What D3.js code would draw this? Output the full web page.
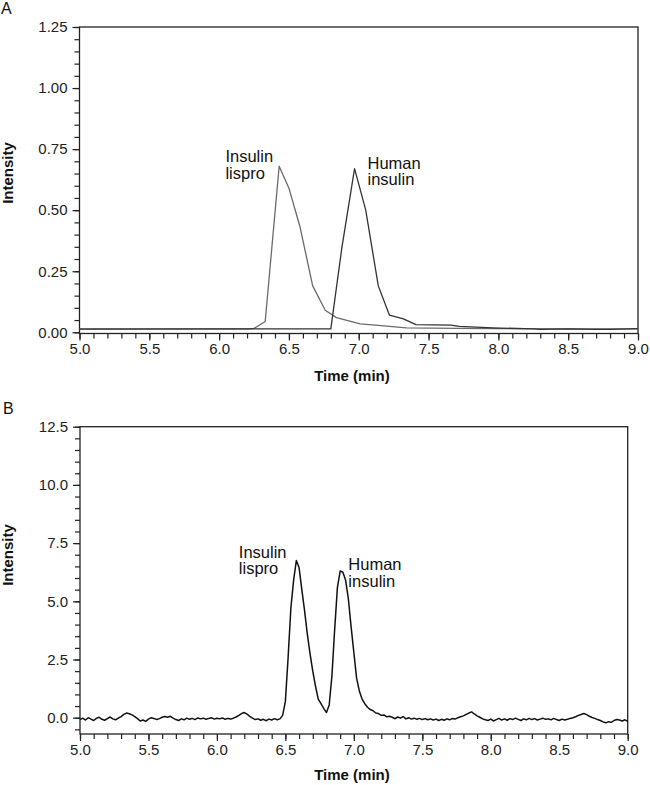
<!DOCTYPE html>
<html lang="en">
<head>
  <meta charset="UTF-8">
  <title>Insulin lispro / human insulin chromatograms</title>
  <script src="https://d3js.org/d3.v7.min.js"></script>
  <style>
    body { margin: 0; background: #fff; }
    svg { display: block; font-family: "Liberation Sans", Arial, sans-serif; }
    .tick line { stroke: #222; stroke-width: 1.2; }
    .tick text { font-size: 15px; fill: #222; }
    .ann { font-size: 16.5px; fill: #111; }
    .axis-title { font-size: 15px; font-weight: bold; fill: #111; }
  </style>
</head>
<body>
<div id="chart"></div>
<script>
// ---- panel A : two separate runs (sparse sampling) ----
const lisproTime = [5.0, 6.21, 6.25, 6.33, 6.43, 6.50, 6.58, 6.67, 6.76, 6.84, 7.01, 7.14, 7.34, 7.70, 8.00, 8.50, 9.00];
const lisproIntensity = [0.014, 0.014, 0.016, 0.044, 0.68, 0.59, 0.43, 0.19, 0.09, 0.06, 0.034, 0.028, 0.018, 0.016, 0.015, 0.014, 0.014];
const humanTime = [5.0, 6.80, 6.88, 6.97, 7.05, 7.14, 7.22, 7.32, 7.41, 7.66, 7.72, 7.96, 8.25, 8.30, 8.50, 8.70, 8.80, 9.00];
const humanIntensity = [0.013, 0.014, 0.35, 0.67, 0.50, 0.19, 0.07, 0.055, 0.031, 0.029, 0.024, 0.018, 0.014, 0.012, 0.014, 0.012, 0.012, 0.015];

// ---- panel B : mixture, sampled every 0.02 min from 5.00 ----
const mixStart = 5.0, mixStep = 0.02;
const mixIntensity = [
  -0.08, -0.02, -0.10, 0.00, -0.06, -0.12, -0.03, 0.02, -0.07, -0.11, -0.04, 0.03, -0.05, -0.09, -0.02,
  0.05, 0.14, 0.20, 0.17, 0.12, 0.05, -0.04,
  -0.14, -0.10, -0.16, -0.06,
  0.00, -0.03, -0.08, -0.04, 0.02,
  0.05, 0.02, 0.06, -0.02, -0.08,
  -0.12, -0.05, -0.09, -0.02, -0.07,
  -0.03, -0.08, -0.01, -0.05, -0.02, -0.07, -0.03, 0.00, -0.06, -0.02,
  -0.05, -0.01, -0.07, -0.03, -0.06,
  -0.02, 0.03, 0.10, 0.18, 0.22, 0.15, 0.06, -0.02,
  -0.08, -0.05, -0.11, -0.07, -0.13, -0.06, -0.10, -0.04, -0.09, -0.05,
  0.10, 0.70, 2.6, 4.7, 5.9, 6.75, 6.45, 5.5, 4.6, 3.6,
  2.75, 2.0, 1.35, 0.80, 0.60, 0.40, 0.22, 0.55, 1.8, 3.8,
  5.6, 6.3, 6.25, 5.9, 5.1, 3.9, 2.8, 1.7, 1.15, 0.80,
  0.60, 0.45, 0.35, 0.30, 0.20, 0.18, 0.10, 0.12, 0.04, 0.06,
  0.02, -0.04, 0.03, -0.02, 0.05, -0.05, 0.00, -0.06, -0.02, -0.07, -0.03, -0.08,
  -0.04, -0.09, -0.05, -0.10, -0.06, -0.12, -0.07, -0.11, -0.05, -0.09, -0.03, -0.06, 0.00,
  0.04, 0.08, 0.14, 0.20, 0.25, 0.16, 0.08, 0.02, -0.05, -0.09,
  -0.12, -0.06, -0.14, -0.08, -0.03, -0.10, -0.05, -0.11, -0.04, -0.08, -0.02, -0.07, -0.12, -0.05, -0.09, -0.03,
  -0.08, -0.04, -0.10, -0.06, -0.02, -0.07, -0.05, -0.09, -0.03, -0.08, -0.12, -0.06, -0.10, -0.07, -0.03, 0.00,
  0.04, 0.10, 0.14, 0.18, 0.13, 0.06, 0.01, -0.03,
  -0.08, -0.12, -0.18, -0.22, -0.17, -0.20, -0.12, -0.08,
  -0.10, -0.14, -0.09, -0.16
];

const xTicks = [5.0, 5.5, 6.0, 6.5, 7.0, 7.5, 8.0, 8.5, 9.0];
const xMinorTicks = d3.range(50, 91).map(d => d / 10);
const yTicksA = [0, 0.25, 0.5, 0.75, 1.0, 1.25];
const yMinorA = d3.range(0, 26).map(d => d * 0.05);
const yTicksB = [0, 2.5, 5.0, 7.5, 10.0, 12.5];
const yMinorB = d3.range(-1, 26).map(d => d * 0.5);

const svg = d3.select("#chart").append("svg")
  .attr("width", 650).attr("height", 785);

function panel(opts) {
  const x = d3.scaleLinear().domain([5, 9]).range([opts.left, opts.right]);
  const y = d3.scaleLinear().domain(opts.yDomain).range([opts.bottom, opts.top]);
  const g = svg.append("g");

  // minor ticks first, majors on top
  g.append("g").attr("transform", `translate(0,${opts.bottom})`)
    .call(d3.axisBottom(x).tickValues(xMinorTicks).tickSize(5).tickFormat(""))
    .call(a => a.select(".domain").remove());
  g.append("g").attr("transform", `translate(0,${opts.bottom})`)
    .call(d3.axisBottom(x).tickValues(xTicks).tickSize(7).tickPadding(3).tickFormat(d3.format(".1f")))
    .call(a => a.select(".domain").remove());
  g.append("g").attr("transform", `translate(${opts.left},0)`)
    .call(d3.axisLeft(y).tickValues(opts.yMinor).tickSize(5).tickFormat(""))
    .call(a => a.select(".domain").remove());
  g.append("g").attr("transform", `translate(${opts.left},0)`)
    .call(d3.axisLeft(y).tickValues(opts.yTicks).tickSize(7).tickPadding(5).tickFormat(d3.format(opts.yFmt)))
    .call(a => a.select(".domain").remove());

  g.append("rect")
    .attr("x", opts.left).attr("y", opts.top)
    .attr("width", opts.right - opts.left).attr("height", opts.bottom - opts.top)
    .attr("fill", "none").attr("stroke", "#222").attr("stroke-width", 1.3);

  const line = d3.line().x(d => x(d[0])).y(d => y(d[1]));
  opts.series.forEach(s => {
    g.append("path").datum(s.pts)
      .attr("d", line)
      .attr("fill", "none")
      .attr("stroke", s.color)
      .attr("stroke-width", s.width)
      .attr("stroke-linejoin", "round");
  });

  opts.labels.forEach(l => {
    const t = g.append("text").attr("class", "ann")
      .attr("x", x(l.t)).attr("y", y(l.v));
    t.append("tspan").text(l.lines[0]);
    t.append("tspan").attr("x", x(l.t)).attr("dy", 16.5).text(l.lines[1]);
  });

  g.append("text").attr("class", "axis-title")
    .attr("text-anchor", "middle")
    .attr("x", opts.xTitle[0]).attr("y", opts.xTitle[1])
    .text("Time (min)");
  g.append("text").attr("class", "axis-title")
    .attr("text-anchor", "middle")
    .attr("transform", `translate(13,${opts.yTitle}) rotate(-90)`)
    .text("Intensity");
  g.append("text")
    .attr("x", opts.letter[0]).attr("y", opts.letter[1])
    .attr("font-size", 16).attr("fill", "#111")
    .text(opts.name);
}

panel({
  name: "A", letter: [1, 14],
  left: 79.5, right: 638, top: 27, bottom: 333.5,
  yDomain: [-0.005, 1.25], yTicks: yTicksA, yMinor: yMinorA, yFmt: ".2f",
  series: [
    { pts: lisproTime.map((t, i) => [t, lisproIntensity[i]]), color: "#6a6a6a", width: 1.3 },
    { pts: humanTime.map((t, i) => [t, humanIntensity[i]]), color: "#333", width: 1.3 }
  ],
  labels: [
    { t: 6.045, v: 0.697, lines: ["Insulin", "lispro"] },
    { t: 7.063, v: 0.669, lines: ["Human", "insulin"] }
  ],
  xTitle: [352, 381], yTitle: 173
});

panel({
  name: "B", letter: [3, 414],
  left: 80, right: 627.7, top: 426.7, bottom: 734,
  yDomain: [-0.7, 12.5], yTicks: yTicksB, yMinor: yMinorB, yFmt: ".1f",
  series: [
    { pts: mixIntensity.map((v, i) => [mixStart + i * mixStep, v]), color: "#111", width: 1.5 }
  ],
  labels: [
    { t: 6.16, v: 6.87, lines: ["Insulin", "lispro"] },
    { t: 6.96, v: 6.34, lines: ["Human", "insulin"] }
  ],
  xTitle: [352, 780], yTitle: 555
});
</script>
</body>
</html>
